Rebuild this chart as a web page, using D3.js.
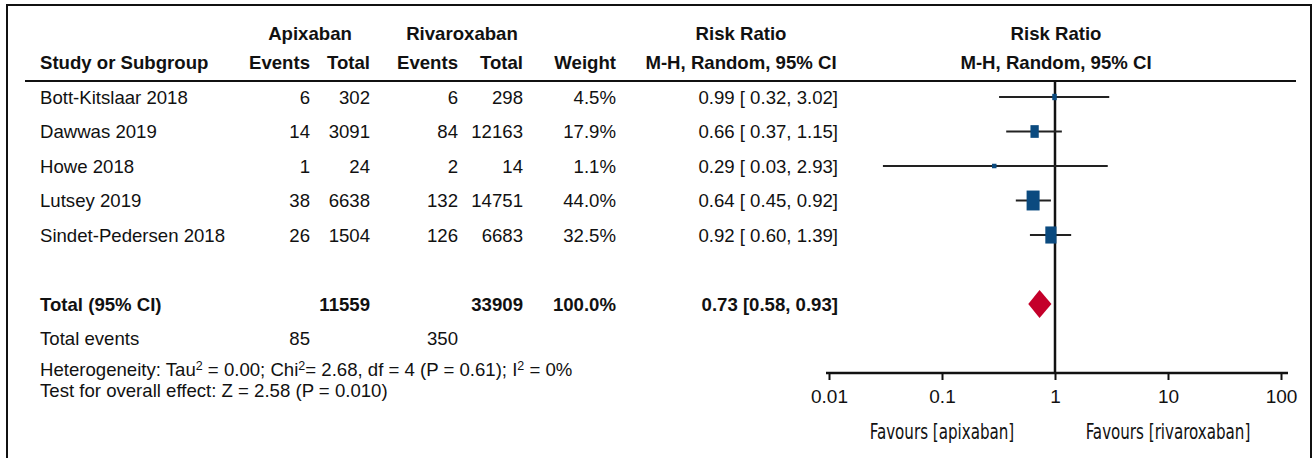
<!DOCTYPE html>
<html lang="en">
<head>
<meta charset="UTF-8">
<title>Forest plot - Apixaban vs Rivaroxaban</title>
<script src="https://d3js.org/d3.v7.min.js"></script>
<style>
  body { margin: 0; background: #fff; }
  svg text { font-family: "Liberation Sans", Arial, sans-serif; font-size: 18.6px; fill: #111; }
  .bold { font-weight: bold; font-size: 18.6px; }
  .narrow { font-family: "DejaVu Sans Condensed", sans-serif; font-size: 21px; }
</style>
</head>
<body>
<svg id="chart" width="1313" height="458"></svg>
<script>
// data
const studies = ["Bott-Kitslaar 2018", "Dawwas 2019", "Howe 2018", "Lutsey 2019", "Sindet-Pedersen 2018"];
const apixEvents = [6, 14, 1, 38, 26];
const apixTotal = [302, 3091, 24, 6638, 1504];
const rivaEvents = [6, 84, 2, 132, 126];
const rivaTotal = [298, 12163, 14, 14751, 6683];
const weights = [4.5, 17.9, 1.1, 44.0, 32.5];
const rr = [0.99, 0.66, 0.29, 0.64, 0.92];
const rrLow = [0.32, 0.37, 0.03, 0.45, 0.60];
const rrHigh = [3.02, 1.15, 2.93, 0.92, 1.39];

const pooled = { apixTotal: 11559, rivaTotal: 33909, weight: 100.0, rr: 0.73, low: 0.58, high: 0.93, apixEvents: 85, rivaEvents: 350 };
const tickValues = [0.01, 0.1, 1, 10, 100];
const tickLabels = ["0.01", "0.1", "1", "10", "100"];

const svg = d3.select("#chart");

// frame
svg.append("rect")
  .attr("x", 7).attr("y", 5).attr("width", 1304).attr("height", 470)
  .attr("fill", "none").attr("stroke", "#111").attr("stroke-width", 2);

// row positions
const yRow = d3.scaleLinear().domain([0, 1]).range([97, 131.5]);
const x = d3.scaleLog().domain([0.01, 100]).range([829, 1281]);

// column right edges
const col = { study: 40, aEv: 310, aTot: 370, rEv: 458, rTot: 523, w: 616, ci: 838 };

function txt(xp, yp, s, anchor, cls) {
  return svg.append("text")
    .attr("x", xp).attr("y", yp).attr("dy", "0.35em")
    .attr("text-anchor", anchor || "end")
    .attr("class", cls || null)
    .text(s);
}

// header
txt(310, 33, "Apixaban", "middle", "bold");
txt(462, 33, "Rivaroxaban", "middle", "bold");
txt(741, 33, "Risk Ratio", "middle", "bold");
txt(1056, 33, "Risk Ratio", "middle", "bold");
txt(col.study, 62, "Study or Subgroup", "start", "bold");
txt(col.aEv, 62, "Events", "end", "bold");
txt(col.aTot, 62, "Total", "end", "bold");
txt(col.rEv, 62, "Events", "end", "bold");
txt(col.rTot, 62, "Total", "end", "bold");
txt(col.w, 62, "Weight", "end", "bold");
txt(741, 62, "M-H, Random, 95% CI", "middle", "bold");
txt(1056, 62, "M-H, Random, 95% CI", "middle", "bold");

svg.append("line")
  .attr("x1", 25).attr("x2", 1296).attr("y1", 81).attr("y2", 81)
  .attr("stroke", "#111").attr("stroke-width", 2);

// null line
svg.append("line")
  .attr("x1", x(1)).attr("x2", x(1)).attr("y1", 81).attr("y2", 373)
  .attr("stroke", "#111").attr("stroke-width", 2.5);

const fmt2 = d3.format(".2f");
studies.forEach((s, i) => {
  const y = yRow(i);
  txt(col.study, y, s, "start");
  txt(col.aEv, y, apixEvents[i]);
  txt(col.aTot, y, apixTotal[i]);
  txt(col.rEv, y, rivaEvents[i]);
  txt(col.rTot, y, rivaTotal[i]);
  txt(col.w, y, d3.format(".1f")(weights[i]) + "%");
  txt(col.ci, y, `${fmt2(rr[i])} [ ${fmt2(rrLow[i])}, ${fmt2(rrHigh[i])}]`);

  // CI whisker
  svg.append("line")
    .attr("x1", x(rrLow[i])).attr("x2", x(rrHigh[i]))
    .attr("y1", y).attr("y2", y)
    .attr("stroke", "#222").attr("stroke-width", 2);

  // weight box
  const bw = Math.max(4.5, 1.96 * Math.sqrt(weights[i]));
  const bh = Math.max(4.5, 3.0 * Math.sqrt(weights[i]));
  svg.append("rect")
    .attr("x", x(rr[i]) - bw / 2).attr("y", y - bh / 2)
    .attr("width", bw).attr("height", bh)
    .attr("fill", "#0b4a7f");
});

// pooled row
const yT = yRow(6);
txt(col.study, yT, "Total (95% CI)", "start", "bold");
txt(col.aTot, yT, pooled.apixTotal, "end", "bold");
txt(col.rTot, yT, pooled.rivaTotal, "end", "bold");
txt(col.w, yT, d3.format(".1f")(pooled.weight) + "%", "end", "bold");
txt(col.ci, yT, `${fmt2(pooled.rr)} [${fmt2(pooled.low)}, ${fmt2(pooled.high)}]`, "end", "bold");

const dh = 14;
svg.append("path")
  .attr("d", `M${x(pooled.low)},${yT} L${x(pooled.rr)},${yT - dh} L${x(pooled.high)},${yT} L${x(pooled.rr)},${yT + dh} Z`)
  .attr("fill", "#c4002a");

const yE = yRow(7);
txt(col.study, yE, "Total events", "start");
txt(col.aEv, yE, pooled.apixEvents);
txt(col.rEv, yE, pooled.rivaEvents);

// heterogeneity text with superscripts
const het = svg.append("text").attr("x", col.study).attr("y", 369).attr("dy", "0.35em");
const parts = [["Heterogeneity: Tau", 0], ["2", 1], [" = 0.00; Chi", 0], ["2", 1], ["= 2.68, df = 4 (P = 0.61); I", 0], ["2", 1], [" = 0%", 0]];
parts.forEach(([t, sup], i) => {
  const ts = het.append("tspan").text(t);
  if (sup) ts.attr("dy", -6).attr("font-size", "12.5px");
  else if (i > 0) ts.attr("dy", 6);
});
txt(col.study, 390, "Test for overall effect: Z = 2.58 (P = 0.010)", "start");

// axis
const axis = d3.axisBottom(x).tickValues(tickValues).tickFormat((d, i) => tickLabels[i]).tickSize(7).tickPadding(10);
const gAxis = svg.append("g").attr("transform", "translate(0,373)").call(axis);
gAxis.select(".domain").attr("d", `M826,0H1288`).attr("stroke", "#111").attr("stroke-width", 2.5);
gAxis.selectAll(".tick line").attr("stroke", "#111").attr("stroke-width", 2);
gAxis.selectAll(".tick text").attr("font-size", null).attr("font-family", null).style("font-size", "19px").attr("fill", "#111");

svg.append("text").attr("class", "narrow")
  .attr("transform", `translate(${x(0.1)},432) scale(0.8,1)`)
  .attr("dy", "0.35em").attr("text-anchor", "middle").text("Favours [apixaban]");
svg.append("text").attr("class", "narrow")
  .attr("transform", `translate(${x(10)},432) scale(0.8,1)`)
  .attr("dy", "0.35em").attr("text-anchor", "middle").text("Favours [rivaroxaban]");
</script>
</body>
</html>
